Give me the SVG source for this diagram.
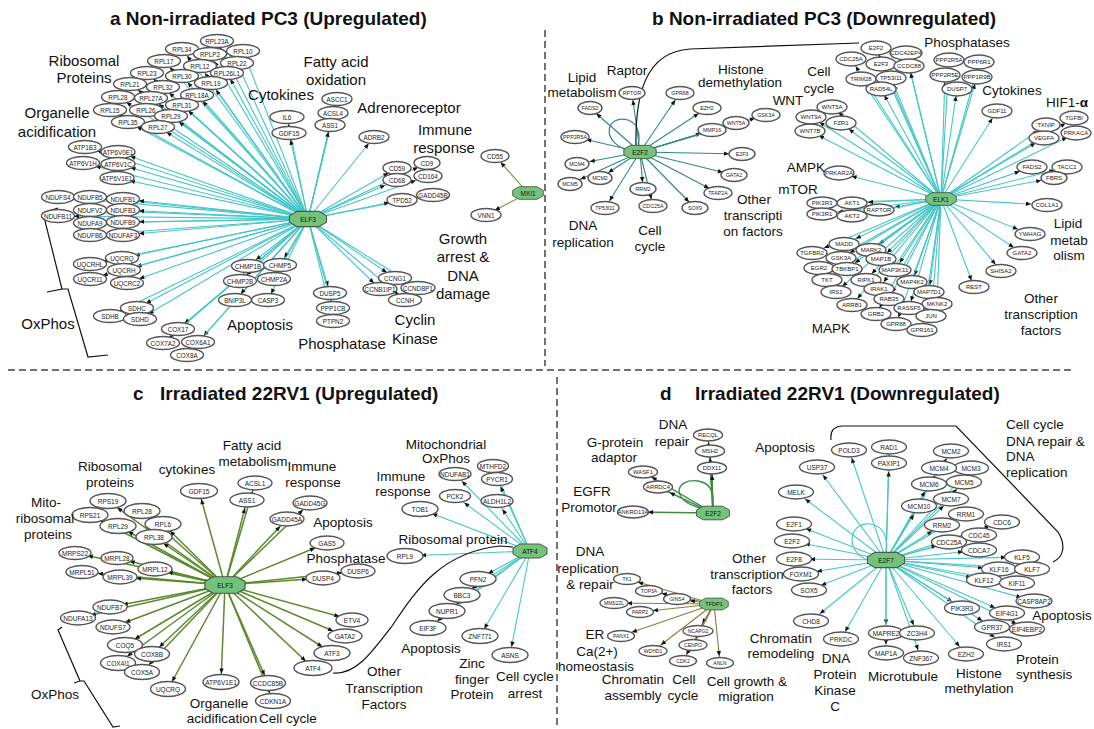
<svg xmlns="http://www.w3.org/2000/svg" width="1094" height="729" viewBox="0 0 1094 729">
<style>
text{font-family:"Liberation Sans",Arial,sans-serif;fill:#111}
.title{font-weight:bold;font-size:19px}
.la{font-size:15px;text-anchor:middle}
.lb{font-size:13.5px;text-anchor:middle}
.ls{font-size:13.5px}
.n ellipse{fill:#fff;stroke:#555;stroke-width:1.4}
.n text{text-anchor:middle;dominant-baseline:central;fill:#222}
.fa text{font-size:6.3px}.fb text{font-size:5.3px}.fk text{font-size:6px}.fc text{font-size:6.5px}.fd text{font-size:5.8px}.ft text{font-size:5px}
.hub use{fill:#74c27c;stroke:#4a5a4a;stroke-width:1}
.hub text{font-size:6.5px;text-anchor:middle;dominant-baseline:central}
#edges line{stroke-width:1.1}
.cy{stroke:#45c6c8}.tb{stroke:#2e8a86}.gc{stroke:#5b8a2f;stroke-width:1.5!important}.ol{stroke:#6d9a35}.gd{stroke:#3d8c45;stroke-width:1.4!important}.br{stroke:#8d7b3e}
.m7{marker-end:url(#o7)}.m8{marker-end:url(#o8)}.m10{marker-end:url(#o10)}.m12{marker-end:url(#o12)}.m13{marker-end:url(#o13)}.m16{marker-end:url(#o16)}
.ah{fill:#111}
.curve{fill:none;stroke:#111;stroke-width:1.2}
.dash{fill:none;stroke:#444;stroke-width:1.5;stroke-dasharray:7 4}
</style>
<defs>
<marker id="o7" markerUnits="userSpaceOnUse" orient="auto" refX="7" refY="0" markerWidth="6" markerHeight="6" overflow="visible"><path class="ah" d="M0,0L-5,-2.2L-5,2.2Z"/></marker>
<marker id="o8" markerUnits="userSpaceOnUse" orient="auto" refX="8.5" refY="0" markerWidth="6" markerHeight="6" overflow="visible"><path class="ah" d="M0,0L-5,-2.2L-5,2.2Z"/></marker>
<marker id="o10" markerUnits="userSpaceOnUse" orient="auto" refX="10" refY="0" markerWidth="6" markerHeight="6" overflow="visible"><path class="ah" d="M0,0L-5,-2.2L-5,2.2Z"/></marker>
<marker id="o12" markerUnits="userSpaceOnUse" orient="auto" refX="11.5" refY="0" markerWidth="6" markerHeight="6" overflow="visible"><path class="ah" d="M0,0L-5,-2.2L-5,2.2Z"/></marker>
<marker id="o13" markerUnits="userSpaceOnUse" orient="auto" refX="13" refY="0" markerWidth="6" markerHeight="6" overflow="visible"><path class="ah" d="M0,0L-5,-2.2L-5,2.2Z"/></marker>
<marker id="o16" markerUnits="userSpaceOnUse" orient="auto" refX="16" refY="0" markerWidth="6" markerHeight="6" overflow="visible"><path class="ah" d="M0,0L-5,-2.2L-5,2.2Z"/></marker>
<polygon id="oct" points="-10,-7 10,-7 17,-3 17,3 10,7 -10,7 -17,3 -17,-3"/>
</defs>

<!-- titles -->
<text class="title" x="110" y="25">a Non-irradiated PC3 (Upregulated)</text>
<text class="title" x="652" y="25">b Non-irradiated PC3 (Downregulated)</text>
<text class="title" x="133" y="400">c</text>
<text class="title" x="160" y="400">Irradiated 22RV1 (Upregulated)</text>
<text class="title" x="660" y="400">d</text>
<text class="title" x="695" y="400">Irradiated 22RV1 (Downregulated)</text>

<!-- dividers -->
<g id="dividers">
<path class="dash" d="M545,30 L545,366"/>
<path class="dash" d="M8,370 L1071,370"/>
<path class="dash" d="M557,377 L557,729"/>
</g>

<g id="edges">
<!-- panel a ELF3 -->
<line x1="308" y1="219" x2="217" y2="41" class="cy m7"/>
<line x1="308" y1="219" x2="182" y2="49" class="cy m8"/>
<line x1="308" y1="219" x2="210" y2="54" class="cy m8"/>
<line x1="308" y1="219" x2="243" y2="51" class="cy m7"/>
<line x1="308" y1="219" x2="164" y2="61" class="cy m8"/>
<line x1="308" y1="219" x2="200" y2="66" class="cy m8"/>
<line x1="308" y1="219" x2="237" y2="63" class="cy m7"/>
<line x1="308" y1="219" x2="227" y2="73" class="cy m7"/>
<line x1="308" y1="219" x2="147" y2="73" class="cy m8"/>
<line x1="308" y1="219" x2="182" y2="76" class="cy m8"/>
<line x1="308" y1="219" x2="211" y2="83" class="cy m8"/>
<line x1="308" y1="219" x2="130" y2="84" class="cy m10"/>
<line x1="308" y1="219" x2="163" y2="87" class="cy m8"/>
<line x1="308" y1="219" x2="197" y2="95" class="cy m8"/>
<line x1="308" y1="219" x2="118" y2="97" class="cy m10"/>
<line x1="308" y1="219" x2="151" y2="98" class="cy m10"/>
<line x1="308" y1="219" x2="182" y2="105" class="cy m8"/>
<line x1="308" y1="219" x2="110" y2="110" class="cy m10"/>
<line x1="308" y1="219" x2="146" y2="110" class="cy m10"/>
<line x1="308" y1="219" x2="171" y2="116" class="cy m10"/>
<line x1="308" y1="219" x2="128" y2="122" class="cy m10"/>
<line x1="308" y1="219" x2="158" y2="127" class="cy m10"/>
<line x1="308" y1="219" x2="287" y2="117" class="cy m7"/>
<line x1="308" y1="219" x2="289" y2="133" class="cy m7"/>
<line x1="308" y1="219" x2="337" y2="99" class="cy m7"/>
<line x1="308" y1="219" x2="333" y2="113" class="cy m7"/>
<line x1="308" y1="219" x2="330" y2="125" class="cy m7"/>
<line x1="308" y1="219" x2="374" y2="137" class="cy m8"/>
<line x1="308" y1="219" x2="397" y2="168" class="cy m10"/>
<line x1="308" y1="219" x2="427" y2="163" class="cy m10"/>
<line x1="308" y1="219" x2="428" y2="176" class="cy m13"/>
<line x1="308" y1="219" x2="397" y2="180" class="cy m13"/>
<line x1="308" y1="219" x2="433" y2="195" class="cy m16"/>
<line x1="308" y1="219" x2="402" y2="200" class="cy m13"/>
<line x1="308" y1="219" x2="85" y2="147" class="cy m13"/>
<line x1="308" y1="219" x2="118" y2="152" class="cy m13"/>
<line x1="308" y1="219" x2="83" y2="163" class="cy m13"/>
<line x1="308" y1="219" x2="118" y2="164" class="cy m13"/>
<line x1="308" y1="219" x2="117" y2="178" class="cy m13"/>
<line x1="308" y1="219" x2="58" y2="197" class="cy m16"/>
<line x1="308" y1="219" x2="90" y2="197" class="cy m16"/>
<line x1="308" y1="219" x2="123" y2="199" class="cy m16"/>
<line x1="308" y1="219" x2="58" y2="216" class="cy m16"/>
<line x1="308" y1="219" x2="90" y2="210" class="cy m16"/>
<line x1="308" y1="219" x2="123" y2="210" class="cy m16"/>
<line x1="308" y1="219" x2="90" y2="223" class="cy m16"/>
<line x1="308" y1="219" x2="123" y2="222" class="cy m16"/>
<line x1="308" y1="219" x2="90" y2="235" class="cy m16"/>
<line x1="308" y1="219" x2="123" y2="235" class="cy m16"/>
<line x1="308" y1="219" x2="122" y2="258" class="cy m13"/>
<line x1="308" y1="219" x2="90" y2="264" class="cy m13"/>
<line x1="308" y1="219" x2="124" y2="270" class="cy m13"/>
<line x1="308" y1="219" x2="90" y2="279" class="cy m13"/>
<line x1="308" y1="219" x2="127" y2="283" class="cy m13"/>
<line x1="308" y1="219" x2="137" y2="308" class="cy m10"/>
<line x1="308" y1="219" x2="110" y2="316" class="cy m10"/>
<line x1="308" y1="219" x2="140" y2="319" class="cy m10"/>
<line x1="308" y1="219" x2="178" y2="329" class="cy m8"/>
<line x1="308" y1="219" x2="163" y2="343" class="cy m8"/>
<line x1="308" y1="219" x2="198" y2="342" class="cy m8"/>
<line x1="308" y1="219" x2="187" y2="355" class="cy m8"/>
<line x1="308" y1="219" x2="248" y2="266" class="cy m10"/>
<line x1="308" y1="219" x2="280" y2="265" class="cy m8"/>
<line x1="308" y1="219" x2="240" y2="281" class="cy m8"/>
<line x1="308" y1="219" x2="274" y2="279" class="cy m7"/>
<line x1="308" y1="219" x2="235" y2="300" class="cy m8"/>
<line x1="308" y1="219" x2="268" y2="300" class="cy m7"/>
<line x1="308" y1="219" x2="330" y2="293" class="cy m7"/>
<line x1="308" y1="219" x2="333" y2="308" class="cy m7"/>
<line x1="308" y1="219" x2="333" y2="321" class="cy m7"/>
<line x1="308" y1="219" x2="395" y2="278" class="cy m10"/>
<line x1="308" y1="219" x2="380" y2="289" class="cy m8"/>
<line x1="308" y1="219" x2="418" y2="288" class="cy m10"/>
<line x1="308" y1="219" x2="405" y2="300" class="cy m8"/>
<!-- MXI1 -->
<line x1="528" y1="193" x2="495" y2="156" class="ol m8"/>
<line x1="528" y1="193" x2="486" y2="215" class="ol m10"/>
<!-- panel b E2F2 -->
<line x1="640" y1="152" x2="632" y2="93" class="tb m7"/>
<line x1="640" y1="152" x2="680" y2="93" class="tb m8"/>
<line x1="640" y1="152" x2="590" y2="108" class="tb m8"/>
<line x1="640" y1="152" x2="707" y2="108" class="tb m10"/>
<line x1="640" y1="152" x2="575" y2="137" class="tb m12"/>
<line x1="640" y1="152" x2="712" y2="130" class="tb m12"/>
<line x1="640" y1="152" x2="736" y2="123" class="tb m12"/>
<line x1="640" y1="152" x2="766" y2="115" class="tb m12"/>
<line x1="640" y1="152" x2="742" y2="154" class="tb m13"/>
<line x1="640" y1="152" x2="577" y2="164" class="tb m13"/>
<line x1="640" y1="152" x2="600" y2="178" class="tb m10"/>
<line x1="640" y1="152" x2="570" y2="184" class="tb m12"/>
<line x1="640" y1="152" x2="643" y2="189" class="tb m7"/>
<line x1="640" y1="152" x2="605" y2="208" class="tb m8"/>
<line x1="640" y1="152" x2="653" y2="206" class="tb m7"/>
<line x1="640" y1="152" x2="695" y2="208" class="tb m8"/>
<line x1="640" y1="152" x2="718" y2="193" class="tb m10"/>
<line x1="640" y1="152" x2="734" y2="175" class="tb m12"/>
<!-- panel b ELK1 -->
<line x1="941" y1="199" x2="876" y2="48" class="cy m7"/>
<line x1="941" y1="199" x2="906" y2="53" class="cy m7"/>
<line x1="941" y1="199" x2="851" y2="59" class="cy m8"/>
<line x1="941" y1="199" x2="881" y2="64" class="cy m7"/>
<line x1="941" y1="199" x2="909" y2="66" class="cy m7"/>
<line x1="941" y1="199" x2="861" y2="79" class="cy m8"/>
<line x1="941" y1="199" x2="891" y2="78" class="cy m7"/>
<line x1="941" y1="199" x2="881" y2="89" class="cy m7"/>
<line x1="941" y1="199" x2="949" y2="60" class="cy m7"/>
<line x1="941" y1="199" x2="979" y2="62" class="cy m7"/>
<line x1="941" y1="199" x2="945" y2="75" class="cy m7"/>
<line x1="941" y1="199" x2="977" y2="77" class="cy m7"/>
<line x1="941" y1="199" x2="957" y2="89" class="cy m7"/>
<line x1="941" y1="199" x2="997" y2="111" class="cy m8"/>
<line x1="941" y1="199" x2="1074" y2="118" class="cy m10"/>
<line x1="941" y1="199" x2="1046" y2="125" class="cy m10"/>
<line x1="941" y1="199" x2="1076" y2="133" class="cy m10"/>
<line x1="941" y1="199" x2="1044" y2="138" class="cy m10"/>
<line x1="941" y1="199" x2="832" y2="107" class="cy m8"/>
<line x1="941" y1="199" x2="811" y2="117" class="cy m10"/>
<line x1="941" y1="199" x2="841" y2="123" class="cy m10"/>
<line x1="941" y1="199" x2="810" y2="131" class="cy m10"/>
<line x1="941" y1="199" x2="839" y2="173" class="cy m13"/>
<line x1="941" y1="199" x2="1032" y2="167" class="cy m13"/>
<line x1="941" y1="199" x2="1067" y2="167" class="cy m13"/>
<line x1="941" y1="199" x2="1054" y2="178" class="cy m13"/>
<line x1="941" y1="199" x2="1047" y2="205" class="cy m16"/>
<line x1="941" y1="199" x2="1030" y2="234" class="cy m13"/>
<line x1="941" y1="199" x2="1022" y2="253" class="cy m10"/>
<line x1="941" y1="199" x2="1001" y2="271" class="cy m8"/>
<line x1="941" y1="199" x2="974" y2="287" class="cy m7"/>
<line x1="941" y1="199" x2="822" y2="203" class="cy m16"/>
<line x1="941" y1="199" x2="852" y2="203" class="cy m16"/>
<line x1="941" y1="199" x2="879" y2="210" class="cy m16"/>
<line x1="941" y1="199" x2="822" y2="214" class="cy m16"/>
<line x1="941" y1="199" x2="852" y2="216" class="cy m13"/>
<line x1="941" y1="199" x2="844" y2="244" class="cy m13"/>
<line x1="941" y1="199" x2="812" y2="253" class="cy m13"/>
<line x1="941" y1="199" x2="871" y2="250" class="cy m10"/>
<line x1="941" y1="199" x2="841" y2="258" class="cy m10"/>
<line x1="941" y1="199" x2="881" y2="259" class="cy m8"/>
<line x1="941" y1="199" x2="819" y2="268" class="cy m10"/>
<line x1="941" y1="199" x2="847" y2="269" class="cy m10"/>
<line x1="941" y1="199" x2="895" y2="270" class="cy m8"/>
<line x1="941" y1="199" x2="827" y2="280" class="cy m10"/>
<line x1="941" y1="199" x2="866" y2="280" class="cy m8"/>
<line x1="941" y1="199" x2="912" y2="282" class="cy m7"/>
<line x1="941" y1="199" x2="836" y2="292" class="cy m8"/>
<line x1="941" y1="199" x2="879" y2="289" class="cy m8"/>
<line x1="941" y1="199" x2="929" y2="292" class="cy m7"/>
<line x1="941" y1="199" x2="889" y2="299" class="cy m7"/>
<line x1="941" y1="199" x2="937" y2="304" class="cy m7"/>
<line x1="941" y1="199" x2="852" y2="305" class="cy m8"/>
<line x1="941" y1="199" x2="909" y2="308" class="cy m7"/>
<line x1="941" y1="199" x2="931" y2="316" class="cy m7"/>
<line x1="941" y1="199" x2="876" y2="314" class="cy m7"/>
<line x1="941" y1="199" x2="896" y2="324" class="cy m7"/>
<line x1="941" y1="199" x2="922" y2="330" class="cy m7"/>
<!-- panel c ELF3 -->
<line x1="225" y1="585" x2="108" y2="501" class="gc m12"/>
<line x1="225" y1="585" x2="90" y2="515" class="gc m12"/>
<line x1="225" y1="585" x2="142" y2="511" class="gc m10"/>
<line x1="225" y1="585" x2="118" y2="526" class="gc m12"/>
<line x1="225" y1="585" x2="163" y2="524" class="gc m10"/>
<line x1="225" y1="585" x2="154" y2="537" class="gc m12"/>
<line x1="225" y1="585" x2="199" y2="491" class="gc m8"/>
<line x1="225" y1="585" x2="255" y2="483" class="gc m8"/>
<line x1="225" y1="585" x2="247" y2="500" class="gc m8"/>
<line x1="225" y1="585" x2="310" y2="503" class="gc m10"/>
<line x1="225" y1="585" x2="287" y2="519" class="gc m10"/>
<line x1="225" y1="585" x2="327" y2="543" class="gc m13"/>
<line x1="225" y1="585" x2="358" y2="571" class="gc m16"/>
<line x1="225" y1="585" x2="323" y2="578" class="gc m16"/>
<line x1="225" y1="585" x2="75" y2="553" class="gc m13"/>
<line x1="225" y1="585" x2="117" y2="558" class="gc m13"/>
<line x1="225" y1="585" x2="155" y2="569" class="gc m13"/>
<line x1="225" y1="585" x2="82" y2="572" class="gc m16"/>
<line x1="225" y1="585" x2="120" y2="577" class="gc m16"/>
<line x1="225" y1="585" x2="110" y2="607" class="gc m13"/>
<line x1="225" y1="585" x2="78" y2="618" class="gc m13"/>
<line x1="225" y1="585" x2="113" y2="627" class="gc m13"/>
<line x1="225" y1="585" x2="125" y2="645" class="gc m12"/>
<line x1="225" y1="585" x2="152" y2="654" class="gc m10"/>
<line x1="225" y1="585" x2="118" y2="663" class="gc m12"/>
<line x1="225" y1="585" x2="142" y2="672" class="gc m10"/>
<line x1="225" y1="585" x2="168" y2="689" class="gc m8"/>
<line x1="225" y1="585" x2="221" y2="682" class="gc m8"/>
<line x1="225" y1="585" x2="268" y2="683" class="gc m8"/>
<line x1="225" y1="585" x2="273" y2="701" class="gc m8"/>
<line x1="225" y1="585" x2="352" y2="620" class="gc m13"/>
<line x1="225" y1="585" x2="345" y2="636" class="gc m13"/>
<line x1="225" y1="585" x2="332" y2="653" class="gc m12"/>
<line x1="225" y1="585" x2="313" y2="668" class="gc m10"/>
<!-- ATF4 -->
<line x1="530" y1="551" x2="493" y2="466" class="cy m8"/>
<line x1="530" y1="551" x2="455" y2="474" class="cy m10"/>
<line x1="530" y1="551" x2="497" y2="479" class="cy m8"/>
<line x1="530" y1="551" x2="455" y2="496" class="cy m12"/>
<line x1="530" y1="551" x2="497" y2="501" class="cy m10"/>
<line x1="530" y1="551" x2="420" y2="509" class="cy m13"/>
<line x1="530" y1="551" x2="405" y2="556" class="cy m16"/>
<line x1="530" y1="551" x2="478" y2="579" class="cy m12"/>
<line x1="530" y1="551" x2="462" y2="595" class="cy m12"/>
<line x1="530" y1="551" x2="447" y2="611" class="cy m12"/>
<line x1="530" y1="551" x2="428" y2="628" class="cy m12"/>
<line x1="530" y1="551" x2="480" y2="636" class="cy m8"/>
<line x1="530" y1="551" x2="510" y2="655" class="cy m8"/>
<!-- panel d E2F2 -->
<line x1="713" y1="513" x2="708" y2="435" class="gd m7"/>
<line x1="713" y1="513" x2="710" y2="451" class="gd m7"/>
<line x1="713" y1="513" x2="712" y2="468" class="gd m7"/>
<line x1="713" y1="513" x2="643" y2="472" class="gd m10"/>
<line x1="713" y1="513" x2="658" y2="487" class="gd m13"/>
<line x1="713" y1="513" x2="632" y2="512" class="gd m16"/>
<!-- TFDP1 -->
<line x1="714" y1="604" x2="627" y2="579" class="br m12"/>
<line x1="714" y1="604" x2="649" y2="591" class="br m13"/>
<line x1="714" y1="604" x2="677" y2="599" class="br m13"/>
<line x1="714" y1="604" x2="614" y2="603" class="br m13"/>
<line x1="714" y1="604" x2="640" y2="612" class="br m13"/>
<line x1="714" y1="604" x2="621" y2="636" class="br m12"/>
<line x1="714" y1="604" x2="698" y2="631" class="br m8"/>
<line x1="714" y1="604" x2="693" y2="645" class="br m7"/>
<line x1="714" y1="604" x2="653" y2="651" class="br m10"/>
<line x1="714" y1="604" x2="683" y2="661" class="br m7"/>
<line x1="714" y1="604" x2="720" y2="663" class="br m7"/>
<!-- E2F7 -->
<line x1="886" y1="560" x2="849" y2="450" class="cy m8"/>
<line x1="886" y1="560" x2="889" y2="447" class="cy m8"/>
<line x1="886" y1="560" x2="889" y2="463" class="cy m8"/>
<line x1="886" y1="560" x2="817" y2="467" class="cy m10"/>
<line x1="886" y1="560" x2="796" y2="492" class="cy m12"/>
<line x1="886" y1="560" x2="951" y2="451" class="cy m8"/>
<line x1="886" y1="560" x2="939" y2="468" class="cy m8"/>
<line x1="886" y1="560" x2="971" y2="468" class="cy m10"/>
<line x1="886" y1="560" x2="929" y2="484" class="cy m8"/>
<line x1="886" y1="560" x2="964" y2="482" class="cy m10"/>
<line x1="886" y1="560" x2="951" y2="499" class="cy m10"/>
<line x1="886" y1="560" x2="919" y2="506" class="cy m10"/>
<line x1="886" y1="560" x2="966" y2="514" class="cy m12"/>
<line x1="886" y1="560" x2="942" y2="525" class="cy m12"/>
<line x1="886" y1="560" x2="1002" y2="522" class="cy m13"/>
<line x1="886" y1="560" x2="979" y2="535" class="cy m13"/>
<line x1="886" y1="560" x2="949" y2="542" class="cy m13"/>
<line x1="886" y1="560" x2="979" y2="550" class="cy m16"/>
<line x1="886" y1="560" x2="794" y2="524" class="cy m13"/>
<line x1="886" y1="560" x2="792" y2="541" class="cy m13"/>
<line x1="886" y1="560" x2="794" y2="559" class="cy m16"/>
<line x1="886" y1="560" x2="801" y2="574" class="cy m16"/>
<line x1="886" y1="560" x2="809" y2="590" class="cy m13"/>
<line x1="886" y1="560" x2="1022" y2="557" class="cy m16"/>
<line x1="886" y1="560" x2="999" y2="569" class="cy m16"/>
<line x1="886" y1="560" x2="1032" y2="569" class="cy m16"/>
<line x1="886" y1="560" x2="984" y2="580" class="cy m13"/>
<line x1="886" y1="560" x2="1017" y2="583" class="cy m16"/>
<line x1="886" y1="560" x2="1034" y2="601" class="cy m13"/>
<line x1="886" y1="560" x2="962" y2="608" class="cy m12"/>
<line x1="886" y1="560" x2="1007" y2="613" class="cy m13"/>
<line x1="886" y1="560" x2="992" y2="627" class="cy m12"/>
<line x1="886" y1="560" x2="1027" y2="629" class="cy m12"/>
<line x1="886" y1="560" x2="1004" y2="644" class="cy m12"/>
<line x1="886" y1="560" x2="811" y2="621" class="cy m12"/>
<line x1="886" y1="560" x2="841" y2="639" class="cy m8"/>
<line x1="886" y1="560" x2="886" y2="633" class="cy m8"/>
<line x1="886" y1="560" x2="917" y2="633" class="cy m8"/>
<line x1="886" y1="560" x2="886" y2="653" class="cy m8"/>
<line x1="886" y1="560" x2="921" y2="658" class="cy m8"/>
<line x1="886" y1="560" x2="966" y2="654" class="cy m10"/>
<!-- loops and curves -->
<path d="M628,150 C600,142 606,114 628,120 C640,124 640,138 638,145" fill="none" stroke="#2e8a86" stroke-width="1.2"/>
<path d="M700,508 C670,500 675,478 698,481 C712,483 714,495 713,506" fill="none" stroke="#3d8c45" stroke-width="1.3"/>
<path d="M868,560 C845,552 848,522 870,524 C885,526 888,540 886,553" fill="none" stroke="#45c6c8" stroke-width="1.1"/>
<path class="curve" d="M636,147 C635,95 645,52 690,49 L859,43"/>
<path class="curve" d="M333,673 C355,675 370,655 392,626 C415,592 440,552 500,546 L513,547"/>
<path class="curve" d="M831,440 C830,430 834,427 842,426 L956,426 L1058,532 C1066,545 1064,557 1053,562"/>
<path class="curve" d="M58,208 L43,213 L62,289 L47,292 M62,289 L68,289 L88,357 L108,355"/>
<path class="curve" d="M62,627 L58,630 L80,681 L74,683 M80,681 L84,681 L113,727 L120,726"/>
</g>

<!-- panel a nodes -->
<g class="fa">
<g id="a_RPL23A" class="n"><ellipse cx="217" cy="41" rx="16.5" ry="6.5"/><text x="217" y="41">RPL23A</text></g>
<g id="a_RPL34" class="n"><ellipse cx="182" cy="49" rx="16.5" ry="6.5"/><text x="182" y="49">RPL34</text></g>
<g id="a_RPL10" class="n"><ellipse cx="243" cy="51" rx="16.5" ry="6.5"/><text x="243" y="51">RPL10</text></g>
<g id="a_RPLP2" class="n"><ellipse cx="210" cy="54" rx="16.5" ry="6.5"/><text x="210" y="54">RPLP2</text></g>
<g id="a_RPL17" class="n"><ellipse cx="164" cy="61" rx="16.5" ry="6.5"/><text x="164" y="61">RPL17</text></g>
<g id="a_RPL22" class="n"><ellipse cx="237" cy="63" rx="16.5" ry="6.5"/><text x="237" y="63">RPL22</text></g>
<g id="a_RPL12" class="n"><ellipse cx="200" cy="66" rx="16.5" ry="6.5"/><text x="200" y="66">RPL12</text></g>
<g id="a_RPL26L1" class="n"><ellipse cx="227" cy="73" rx="16.5" ry="6.5"/><text x="227" y="73">RPL26L1</text></g>
<g id="a_RPL23" class="n"><ellipse cx="147" cy="73" rx="16.5" ry="6.5"/><text x="147" y="73">RPL23</text></g>
<g id="a_RPL30" class="n"><ellipse cx="182" cy="76" rx="16.5" ry="6.5"/><text x="182" y="76">RPL30</text></g>
<g id="a_RPL19" class="n"><ellipse cx="211" cy="83" rx="16.5" ry="6.5"/><text x="211" y="83">RPL19</text></g>
<g id="a_RPL21" class="n"><ellipse cx="130" cy="84" rx="16.5" ry="6.5"/><text x="130" y="84">RPL21</text></g>
<g id="a_RPL32" class="n"><ellipse cx="163" cy="87" rx="16.5" ry="6.5"/><text x="163" y="87">RPL32</text></g>
<g id="a_RPL18A" class="n"><ellipse cx="197" cy="95" rx="16.5" ry="6.5"/><text x="197" y="95">RPL18A</text></g>
<g id="a_RPL28" class="n"><ellipse cx="118" cy="97" rx="16.5" ry="6.5"/><text x="118" y="97">RPL28</text></g>
<g id="a_RPL27A" class="n"><ellipse cx="151" cy="98" rx="16.5" ry="6.5"/><text x="151" y="98">RPL27A</text></g>
<g id="a_RPL31" class="n"><ellipse cx="182" cy="105" rx="16.5" ry="6.5"/><text x="182" y="105">RPL31</text></g>
<g id="a_RPL15" class="n"><ellipse cx="110" cy="110" rx="16.5" ry="6.5"/><text x="110" y="110">RPL15</text></g>
<g id="a_RPL26" class="n"><ellipse cx="146" cy="110" rx="16.5" ry="6.5"/><text x="146" y="110">RPL26</text></g>
<g id="a_RPL29" class="n"><ellipse cx="171" cy="116" rx="16.5" ry="6.5"/><text x="171" y="116">RPL29</text></g>
<g id="a_RPL35" class="n"><ellipse cx="128" cy="122" rx="16.5" ry="6.5"/><text x="128" y="122">RPL35</text></g>
<g id="a_RPL27" class="n"><ellipse cx="158" cy="127" rx="16.5" ry="6.5"/><text x="158" y="127">RPL27</text></g>
<g id="a_IL6" class="n"><ellipse cx="287" cy="117" rx="17" ry="6.5"/><text x="287" y="117">IL6</text></g>
<g id="a_GDF15" class="n"><ellipse cx="289" cy="133" rx="17" ry="6.5"/><text x="289" y="133">GDF15</text></g>
<g id="a_ASCC1" class="n"><ellipse cx="337" cy="99" rx="15" ry="6.5"/><text x="337" y="99">ASCC1</text></g>
<g id="a_ACSL4" class="n"><ellipse cx="333" cy="113" rx="15" ry="6.5"/><text x="333" y="113">ACSL4</text></g>
<g id="a_ASS1" class="n"><ellipse cx="330" cy="125" rx="15" ry="6.5"/><text x="330" y="125">ASS1</text></g>
<g id="a_ADRB2" class="n"><ellipse cx="374" cy="137" rx="15" ry="6.5"/><text x="374" y="137">ADRB2</text></g>
<g id="a_CD55" class="n"><ellipse cx="495" cy="156" rx="14" ry="6.5"/><text x="495" y="156">CD55</text></g>
<g id="a_CD9" class="n"><ellipse cx="427" cy="163" rx="13" ry="6.5"/><text x="427" y="163">CD9</text></g>
<g id="a_CD59" class="n"><ellipse cx="397" cy="168" rx="14" ry="6.5"/><text x="397" y="168">CD59</text></g>
<g id="a_CD164" class="n"><ellipse cx="428" cy="176" rx="14" ry="6.5"/><text x="428" y="176">CD164</text></g>
<g id="a_CD68" class="n"><ellipse cx="397" cy="180" rx="14" ry="6.5"/><text x="397" y="180">CD68</text></g>
<g id="a_GADD45B" class="n"><ellipse cx="433" cy="195" rx="16.5" ry="6.5"/><text x="433" y="195">GADD45B</text></g>
<g id="a_TPD52" class="n"><ellipse cx="402" cy="200" rx="15" ry="6.5"/><text x="402" y="200">TPD52</text></g>
<g id="a_VNN1" class="n"><ellipse cx="486" cy="215" rx="15" ry="6.5"/><text x="486" y="215">VNN1</text></g>
<g id="a_ATP1B3" class="n"><ellipse cx="85" cy="147" rx="16.5" ry="6.5"/><text x="85" y="147">ATP1B3</text></g>
<g id="a_ATP6V0E1" class="n"><ellipse cx="118" cy="152" rx="17" ry="6.5"/><text x="118" y="152">ATP6V0E1</text></g>
<g id="a_ATP6V1H" class="n"><ellipse cx="83" cy="163" rx="16.5" ry="6.5"/><text x="83" y="163">ATP6V1H</text></g>
<g id="a_ATP6V1C" class="n"><ellipse cx="118" cy="164" rx="17" ry="6.5"/><text x="118" y="164">ATP6V1C</text></g>
<g id="a_ATP6V1E1" class="n"><ellipse cx="117" cy="178" rx="17" ry="6.5"/><text x="117" y="178">ATP6V1E1</text></g>
<g id="a_NDUFS4" class="n"><ellipse cx="58" cy="197" rx="16.5" ry="6.5"/><text x="58" y="197">NDUFS4</text></g>
<g id="a_NDUFB5" class="n"><ellipse cx="90" cy="197" rx="16.5" ry="6.5"/><text x="90" y="197">NDUFB5</text></g>
<g id="a_NDUFB1" class="n"><ellipse cx="123" cy="199" rx="16.5" ry="6.5"/><text x="123" y="199">NDUFB1</text></g>
<g id="a_NDUFV2" class="n"><ellipse cx="90" cy="210" rx="16.5" ry="6.5"/><text x="90" y="210">NDUFV2</text></g>
<g id="a_NDUFB3" class="n"><ellipse cx="123" cy="210" rx="16.5" ry="6.5"/><text x="123" y="210">NDUFB3</text></g>
<g id="a_NDUFB11" class="n"><ellipse cx="58" cy="216" rx="16.5" ry="6.5"/><text x="58" y="216">NDUFB11</text></g>
<g id="a_NDUFA9" class="n"><ellipse cx="90" cy="223" rx="16.5" ry="6.5"/><text x="90" y="223">NDUFA9</text></g>
<g id="a_NDUFB9" class="n"><ellipse cx="123" cy="222" rx="16.5" ry="6.5"/><text x="123" y="222">NDUFB9</text></g>
<g id="a_NDUFB6" class="n"><ellipse cx="90" cy="235" rx="16.5" ry="6.5"/><text x="90" y="235">NDUFB6</text></g>
<g id="a_NDUFAF3" class="n"><ellipse cx="123" cy="235" rx="16.5" ry="6.5"/><text x="123" y="235">NDUFAF3</text></g>
<g id="a_UQCRQ" class="n"><ellipse cx="122" cy="258" rx="16.5" ry="6.5"/><text x="122" y="258">UQCRQ</text></g>
<g id="a_UQCRHL" class="n"><ellipse cx="90" cy="264" rx="16.5" ry="6.5"/><text x="90" y="264">UQCRHL</text></g>
<g id="a_UQCRH" class="n"><ellipse cx="124" cy="270" rx="16.5" ry="6.5"/><text x="124" y="270">UQCRH</text></g>
<g id="a_UQCR11" class="n"><ellipse cx="90" cy="279" rx="16.5" ry="6.5"/><text x="90" y="279">UQCR11</text></g>
<g id="a_UQCRC2" class="n"><ellipse cx="127" cy="283" rx="16.5" ry="6.5"/><text x="127" y="283">UQCRC2</text></g>
<g id="a_SDHC" class="n"><ellipse cx="137" cy="308" rx="16.5" ry="6.5"/><text x="137" y="308">SDHC</text></g>
<g id="a_SDHB" class="n"><ellipse cx="110" cy="316" rx="16.5" ry="6.5"/><text x="110" y="316">SDHB</text></g>
<g id="a_SDHD" class="n"><ellipse cx="140" cy="319" rx="16.5" ry="6.5"/><text x="140" y="319">SDHD</text></g>
<g id="a_COX17" class="n"><ellipse cx="178" cy="329" rx="16.5" ry="6.5"/><text x="178" y="329">COX17</text></g>
<g id="a_COX7A2" class="n"><ellipse cx="163" cy="343" rx="16.5" ry="6.5"/><text x="163" y="343">COX7A2</text></g>
<g id="a_COX6A1" class="n"><ellipse cx="198" cy="342" rx="16.5" ry="6.5"/><text x="198" y="342">COX6A1</text></g>
<g id="a_COX8A" class="n"><ellipse cx="187" cy="355" rx="16.5" ry="6.5"/><text x="187" y="355">COX8A</text></g>
<g id="a_CHMP1B" class="n"><ellipse cx="248" cy="266" rx="16.5" ry="6.5"/><text x="248" y="266">CHMP1B</text></g>
<g id="a_CHMP5" class="n"><ellipse cx="280" cy="265" rx="16.5" ry="6.5"/><text x="280" y="265">CHMP5</text></g>
<g id="a_CHMP2B" class="n"><ellipse cx="240" cy="281" rx="16.5" ry="6.5"/><text x="240" y="281">CHMP2B</text></g>
<g id="a_CHMP2A" class="n"><ellipse cx="274" cy="279" rx="16.5" ry="6.5"/><text x="274" y="279">CHMP2A</text></g>
<g id="a_BNIP3L" class="n"><ellipse cx="235" cy="300" rx="16.5" ry="6.5"/><text x="235" y="300">BNIP3L</text></g>
<g id="a_CASP3" class="n"><ellipse cx="268" cy="300" rx="16.5" ry="6.5"/><text x="268" y="300">CASP3</text></g>
<g id="a_DUSP5" class="n"><ellipse cx="330" cy="293" rx="16.5" ry="6.5"/><text x="330" y="293">DUSP5</text></g>
<g id="a_PPP1CB" class="n"><ellipse cx="333" cy="308" rx="16.5" ry="6.5"/><text x="333" y="308">PPP1CB</text></g>
<g id="a_PTPN2" class="n"><ellipse cx="333" cy="321" rx="16.5" ry="6.5"/><text x="333" y="321">PTPN2</text></g>
<g id="a_CCNG1" class="n"><ellipse cx="395" cy="278" rx="16.5" ry="6.5"/><text x="395" y="278">CCNG1</text></g>
<g id="a_CCNDBP1" class="n"><ellipse cx="418" cy="288" rx="17" ry="6.5"/><text x="418" y="288">CCNDBP1</text></g>
<g id="a_CCNB1IP1" class="n"><ellipse cx="380" cy="289" rx="17" ry="6.5"/><text x="380" y="289">CCNB1IP1</text></g>
<g id="a_CCNH" class="n"><ellipse cx="405" cy="300" rx="16.5" ry="6.5"/><text x="405" y="300">CCNH</text></g>
</g>

<!-- panel b E2F2 nodes -->
<g class="fb">
<g id="b_RPTOR" class="n"><ellipse cx="632" cy="93" rx="13" ry="6.5"/><text x="632" y="93">RPTOR</text></g>
<g id="b_GPR68" class="n"><ellipse cx="680" cy="93" rx="14" ry="6.5"/><text x="680" y="93">GPR68</text></g>
<g id="b_FADS2a" class="n"><ellipse cx="590" cy="108" rx="12" ry="6.5"/><text x="590" y="108">FADS2</text></g>
<g id="b_EZH2" class="n"><ellipse cx="707" cy="108" rx="14" ry="6.5"/><text x="707" y="108">EZH2</text></g>
<g id="b_PPP2R5Aa" class="n"><ellipse cx="575" cy="137" rx="14" ry="6.5"/><text x="575" y="137">PPP2R5A</text></g>
<g id="b_MMP16" class="n"><ellipse cx="712" cy="130" rx="14" ry="6.5"/><text x="712" y="130">MMP16</text></g>
<g id="b_WNT5Aa" class="n"><ellipse cx="736" cy="123" rx="13" ry="6.5"/><text x="736" y="123">WNT5A</text></g>
<g id="b_GSK3Aa" class="n"><ellipse cx="766" cy="115" rx="14" ry="6.5"/><text x="766" y="115">GSK3A</text></g>
<g id="b_E2F3a" class="n"><ellipse cx="742" cy="154" rx="13" ry="6.5"/><text x="742" y="154">E2F3</text></g>
<g id="b_MCM4" class="n"><ellipse cx="577" cy="164" rx="12" ry="6.5"/><text x="577" y="164">MCM4</text></g>
<g id="b_MCM2" class="n"><ellipse cx="600" cy="178" rx="12" ry="6.5"/><text x="600" y="178">MCM2</text></g>
<g id="b_MCM5" class="n"><ellipse cx="570" cy="184" rx="12" ry="6.5"/><text x="570" y="184">MCM5</text></g>
<g id="b_RRM2" class="n"><ellipse cx="643" cy="189" rx="13" ry="6.5"/><text x="643" y="189">RRM2</text></g>
<g id="b_TP53I11a" class="n"><ellipse cx="605" cy="208" rx="14" ry="6.5"/><text x="605" y="208">TP53I11</text></g>
<g id="b_CDC25Aa" class="n"><ellipse cx="653" cy="206" rx="14" ry="6.5"/><text x="653" y="206">CDC25A</text></g>
<g id="b_SOX9" class="n"><ellipse cx="695" cy="208" rx="13" ry="6.5"/><text x="695" y="208">SOX9</text></g>
<g id="b_TFAP2A" class="n"><ellipse cx="718" cy="193" rx="14" ry="6.5"/><text x="718" y="193">TFAP2A</text></g>
<g id="b_GATA2a" class="n"><ellipse cx="734" cy="175" rx="13" ry="6.5"/><text x="734" y="175">GATA2</text></g>
</g>

<!-- panel b ELK1 nodes -->
<g class="fk">
<g id="b_E2F2n" class="n"><ellipse cx="876" cy="48" rx="15" ry="7"/><text x="876" y="48">E2F2</text></g>
<g id="b_CDC42EP4" class="n"><ellipse cx="906" cy="53" rx="16" ry="7"/><text x="906" y="53">CDC42EP4</text></g>
<g id="b_CDC25Ab" class="n"><ellipse cx="851" cy="59" rx="15" ry="7"/><text x="851" y="59">CDC25A</text></g>
<g id="b_E2F3b" class="n"><ellipse cx="881" cy="64" rx="15" ry="7"/><text x="881" y="64">E2F3</text></g>
<g id="b_CCDC88" class="n"><ellipse cx="909" cy="66" rx="15" ry="7"/><text x="909" y="66">CCDC88</text></g>
<g id="b_TRIM28" class="n"><ellipse cx="861" cy="79" rx="15" ry="7"/><text x="861" y="79">TRIM28</text></g>
<g id="b_TP53I11b" class="n"><ellipse cx="891" cy="78" rx="15" ry="7"/><text x="891" y="78">TP53I11</text></g>
<g id="b_RAD54L" class="n"><ellipse cx="881" cy="89" rx="15" ry="7"/><text x="881" y="89">RAD54L</text></g>
<g id="b_PPP2R5Ab" class="n"><ellipse cx="949" cy="60" rx="15" ry="7"/><text x="949" y="60">PPP2R5A</text></g>
<g id="b_PPP6R1" class="n"><ellipse cx="979" cy="62" rx="15" ry="7"/><text x="979" y="62">PPP6R1</text></g>
<g id="b_PPP2R5E" class="n"><ellipse cx="945" cy="75" rx="15" ry="7"/><text x="945" y="75">PPP2R5E</text></g>
<g id="b_PPP1R9B" class="n"><ellipse cx="977" cy="77" rx="15" ry="7"/><text x="977" y="77">PPP1R9B</text></g>
<g id="b_DUSP7" class="n"><ellipse cx="957" cy="89" rx="15" ry="7"/><text x="957" y="89">DUSP7</text></g>
<g id="b_GDF11" class="n"><ellipse cx="997" cy="111" rx="15" ry="7"/><text x="997" y="111">GDF11</text></g>
<g id="b_TGFBI" class="n"><ellipse cx="1074" cy="118" rx="14" ry="7"/><text x="1074" y="118">TGFBI</text></g>
<g id="b_TXNIP" class="n"><ellipse cx="1046" cy="125" rx="14" ry="7"/><text x="1046" y="125">TXNIP</text></g>
<g id="b_PRKACA" class="n"><ellipse cx="1076" cy="133" rx="15" ry="7"/><text x="1076" y="133">PRKACA</text></g>
<g id="b_VEGFA" class="n"><ellipse cx="1044" cy="138" rx="15" ry="7"/><text x="1044" y="138">VEGFA</text></g>
<g id="b_WNT5Ab" class="n"><ellipse cx="832" cy="107" rx="15" ry="7"/><text x="832" y="107">WNT5A</text></g>
<g id="b_WNT9A" class="n"><ellipse cx="811" cy="117" rx="15" ry="7"/><text x="811" y="117">WNT9A</text></g>
<g id="b_FZR1" class="n"><ellipse cx="841" cy="123" rx="15" ry="7"/><text x="841" y="123">FZR1</text></g>
<g id="b_WNT7B" class="n"><ellipse cx="810" cy="131" rx="15" ry="7"/><text x="810" y="131">WNT7B</text></g>
<g id="b_PRKAR2A" class="n"><ellipse cx="839" cy="173" rx="15" ry="7"/><text x="839" y="173">PRKAR2A</text></g>
<g id="b_FADS2b" class="n"><ellipse cx="1032" cy="167" rx="15" ry="7"/><text x="1032" y="167">FADS2</text></g>
<g id="b_TACC1" class="n"><ellipse cx="1067" cy="167" rx="15" ry="7"/><text x="1067" y="167">TACC1</text></g>
<g id="b_FBRS" class="n"><ellipse cx="1054" cy="178" rx="13" ry="6.5"/><text x="1054" y="178">FBRS</text></g>
<g id="b_COL1A1" class="n"><ellipse cx="1047" cy="205" rx="15" ry="6.5"/><text x="1047" y="205">COL1A1</text></g>
<g id="b_YWHAG" class="n"><ellipse cx="1030" cy="234" rx="15" ry="6.5"/><text x="1030" y="234">YWHAG</text></g>
<g id="b_GATA2b" class="n"><ellipse cx="1022" cy="253" rx="15" ry="6.5"/><text x="1022" y="253">GATA2</text></g>
<g id="b_SHISA2" class="n"><ellipse cx="1001" cy="271" rx="15" ry="6.5"/><text x="1001" y="271">SHISA2</text></g>
<g id="b_REST" class="n"><ellipse cx="974" cy="287" rx="15" ry="6.5"/><text x="974" y="287">REST</text></g>
<g id="b_PIK3R3" class="n"><ellipse cx="822" cy="203" rx="15" ry="6"/><text x="822" y="203">PIK3R3</text></g>
<g id="b_AKT1" class="n"><ellipse cx="852" cy="203" rx="15" ry="6"/><text x="852" y="203">AKT1</text></g>
<g id="b_PIK3R1" class="n"><ellipse cx="822" cy="214" rx="15" ry="6"/><text x="822" y="214">PIK3R1</text></g>
<g id="b_AKT2" class="n"><ellipse cx="852" cy="216" rx="15" ry="6"/><text x="852" y="216">AKT2</text></g>
<g id="b_RAPTOR" class="n"><ellipse cx="879" cy="210" rx="15" ry="6"/><text x="879" y="210">RAPTOR</text></g>
<g id="b_MADD" class="n"><ellipse cx="844" cy="244" rx="15" ry="6.5"/><text x="844" y="244">MADD</text></g>
<g id="b_TGFBR2" class="n"><ellipse cx="812" cy="253" rx="15" ry="6.5"/><text x="812" y="253">TGFBR2</text></g>
<g id="b_MARK2" class="n"><ellipse cx="871" cy="250" rx="15" ry="6.5"/><text x="871" y="250">MARK2</text></g>
<g id="b_GSK3Ab" class="n"><ellipse cx="841" cy="258" rx="15" ry="6.5"/><text x="841" y="258">GSK3A</text></g>
<g id="b_MAP1B" class="n"><ellipse cx="881" cy="259" rx="15" ry="6.5"/><text x="881" y="259">MAP1B</text></g>
<g id="b_EGR2" class="n"><ellipse cx="819" cy="268" rx="15" ry="6.5"/><text x="819" y="268">EGR2</text></g>
<g id="b_TBKBP1" class="n"><ellipse cx="847" cy="269" rx="15" ry="6.5"/><text x="847" y="269">TBKBP1</text></g>
<g id="b_MAP3K11" class="n"><ellipse cx="895" cy="270" rx="16" ry="6.5"/><text x="895" y="270">MAP3K11</text></g>
<g id="b_TKT" class="n"><ellipse cx="827" cy="280" rx="15" ry="6.5"/><text x="827" y="280">TKT</text></g>
<g id="b_RIPK1" class="n"><ellipse cx="866" cy="280" rx="15" ry="6.5"/><text x="866" y="280">RIPK1</text></g>
<g id="b_MAP4K2" class="n"><ellipse cx="912" cy="282" rx="15" ry="6.5"/><text x="912" y="282">MAP4K2</text></g>
<g id="b_IRAK1" class="n"><ellipse cx="879" cy="289" rx="15" ry="6.5"/><text x="879" y="289">IRAK1</text></g>
<g id="b_IRS1" class="n"><ellipse cx="836" cy="292" rx="15" ry="6.5"/><text x="836" y="292">IRS1</text></g>
<g id="b_MAP7D1" class="n"><ellipse cx="929" cy="292" rx="15" ry="6.5"/><text x="929" y="292">MAP7D1</text></g>
<g id="b_RAB35" class="n"><ellipse cx="889" cy="299" rx="15" ry="6.5"/><text x="889" y="299">RAB35</text></g>
<g id="b_MKNK2" class="n"><ellipse cx="937" cy="304" rx="15" ry="6.5"/><text x="937" y="304">MKNK2</text></g>
<g id="b_ARRB1" class="n"><ellipse cx="852" cy="305" rx="15" ry="6.5"/><text x="852" y="305">ARRB1</text></g>
<g id="b_RASSF5" class="n"><ellipse cx="909" cy="308" rx="15" ry="6.5"/><text x="909" y="308">RASSF5</text></g>
<g id="b_GRB2" class="n"><ellipse cx="876" cy="314" rx="15" ry="6.5"/><text x="876" y="314">GRB2</text></g>
<g id="b_JUN" class="n"><ellipse cx="931" cy="316" rx="15" ry="6.5"/><text x="931" y="316">JUN</text></g>
<g id="b_GPR88" class="n"><ellipse cx="896" cy="324" rx="15" ry="6.5"/><text x="896" y="324">GPR88</text></g>
<g id="b_GPR161" class="n"><ellipse cx="922" cy="330" rx="15" ry="6.5"/><text x="922" y="330">GPR161</text></g>
</g>

<!-- panel c nodes -->
<g class="fc">
<g id="c_RPS19" class="n"><ellipse cx="108" cy="501" rx="18" ry="7.5"/><text x="108" y="501">RPS19</text></g>
<g id="c_RPL28" class="n"><ellipse cx="142" cy="511" rx="18" ry="7.5"/><text x="142" y="511">RPL28</text></g>
<g id="c_RPS21" class="n"><ellipse cx="90" cy="515" rx="18" ry="7.5"/><text x="90" y="515">RPS21</text></g>
<g id="c_RPL6" class="n"><ellipse cx="163" cy="524" rx="18" ry="7.5"/><text x="163" y="524">RPL6</text></g>
<g id="c_RPL29" class="n"><ellipse cx="118" cy="526" rx="18" ry="7.5"/><text x="118" y="526">RPL29</text></g>
<g id="c_RPL38" class="n"><ellipse cx="154" cy="537" rx="18" ry="7.5"/><text x="154" y="537">RPL38</text></g>
<g id="c_GDF15" class="n"><ellipse cx="199" cy="491" rx="18.5" ry="7.5"/><text x="199" y="491">GDF15</text></g>
<g id="c_ACSL1" class="n"><ellipse cx="255" cy="483" rx="17" ry="7"/><text x="255" y="483">ACSL1</text></g>
<g id="c_ASS1" class="n"><ellipse cx="247" cy="500" rx="17" ry="7"/><text x="247" y="500">ASS1</text></g>
<g id="c_GADD45G" class="n"><ellipse cx="310" cy="503" rx="17" ry="7"/><text x="310" y="503">GADD45G</text></g>
<g id="c_GADD45A" class="n"><ellipse cx="287" cy="519" rx="17" ry="7"/><text x="287" y="519">GADD45A</text></g>
<g id="c_GAS5" class="n"><ellipse cx="327" cy="543" rx="17" ry="7"/><text x="327" y="543">GAS5</text></g>
<g id="c_DUSP6" class="n"><ellipse cx="358" cy="571" rx="17" ry="7"/><text x="358" y="571">DUSP6</text></g>
<g id="c_DUSP4" class="n"><ellipse cx="323" cy="578" rx="17" ry="7"/><text x="323" y="578">DUSP4</text></g>
<g id="c_MRPS22" class="n"><ellipse cx="75" cy="553" rx="16" ry="6.5"/><text x="75" y="553">MRPS22</text></g>
<g id="c_MRPL28" class="n"><ellipse cx="117" cy="558" rx="16" ry="6.5"/><text x="117" y="558">MRPL28</text></g>
<g id="c_MRPL51" class="n"><ellipse cx="82" cy="572" rx="16" ry="6.5"/><text x="82" y="572">MRPL51</text></g>
<g id="c_MRPL12" class="n"><ellipse cx="155" cy="569" rx="17" ry="7"/><text x="155" y="569">MRPL12</text></g>
<g id="c_MRPL39" class="n"><ellipse cx="120" cy="577" rx="17" ry="7"/><text x="120" y="577">MRPL39</text></g>
<g id="c_NDUFB7" class="n"><ellipse cx="110" cy="607" rx="17" ry="7"/><text x="110" y="607">NDUFB7</text></g>
<g id="c_NDUFA13" class="n"><ellipse cx="78" cy="618" rx="17.5" ry="7"/><text x="78" y="618">NDUFA13</text></g>
<g id="c_NDUFS7" class="n"><ellipse cx="113" cy="627" rx="17" ry="7"/><text x="113" y="627">NDUFS7</text></g>
<g id="c_COQ5" class="n"><ellipse cx="125" cy="645" rx="17.5" ry="7.5"/><text x="125" y="645">COQ5</text></g>
<g id="c_COX4I1" class="n"><ellipse cx="118" cy="663" rx="17.5" ry="7.5"/><text x="118" y="663">COX4I1</text></g>
<g id="c_COX8B" class="n"><ellipse cx="152" cy="654" rx="17.5" ry="7.5"/><text x="152" y="654">COX8B</text></g>
<g id="c_COX5A" class="n"><ellipse cx="142" cy="672" rx="17.5" ry="7.5"/><text x="142" y="672">COX5A</text></g>
<g id="c_UQCRQ" class="n"><ellipse cx="168" cy="689" rx="17.5" ry="7.5"/><text x="168" y="689">UQCRQ</text></g>
<g id="c_ATP6V1E1" class="n"><ellipse cx="221" cy="682" rx="18" ry="7.5"/><text x="221" y="682">ATP6V1E1</text></g>
<g id="c_CCDC85B" class="n"><ellipse cx="268" cy="683" rx="17.5" ry="7.5"/><text x="268" y="683">CCDC85B</text></g>
<g id="c_CDKN1A" class="n"><ellipse cx="273" cy="701" rx="17.5" ry="7.5"/><text x="273" y="701">CDKN1A</text></g>
<g id="c_ETV4" class="n"><ellipse cx="352" cy="620" rx="16" ry="7"/><text x="352" y="620">ETV4</text></g>
<g id="c_GATA2" class="n"><ellipse cx="345" cy="636" rx="17" ry="7"/><text x="345" y="636">GATA2</text></g>
<g id="c_ATF3" class="n"><ellipse cx="332" cy="653" rx="18" ry="7.5"/><text x="332" y="653">ATF3</text></g>
<g id="c_ATF4n" class="n"><ellipse cx="313" cy="668" rx="19" ry="7.5"/><text x="313" y="668">ATF4</text></g>
<g id="c_MTHFD2" class="n"><ellipse cx="493" cy="466" rx="15.5" ry="6.5"/><text x="493" y="466">MTHFD2</text></g>
<g id="c_NDUFAB1" class="n"><ellipse cx="455" cy="474" rx="16" ry="6.5"/><text x="455" y="474">NDUFAB1</text></g>
<g id="c_PYCR1" class="n"><ellipse cx="497" cy="479" rx="15.5" ry="6.5"/><text x="497" y="479">PYCR1</text></g>
<g id="c_PCK2" class="n"><ellipse cx="455" cy="496" rx="15.5" ry="6.5"/><text x="455" y="496">PCK2</text></g>
<g id="c_ALDH1L2" class="n"><ellipse cx="497" cy="501" rx="16" ry="6.5"/><text x="497" y="501">ALDH1L2</text></g>
<g id="c_TOB1" class="n"><ellipse cx="420" cy="509" rx="18" ry="7.5"/><text x="420" y="509">TOB1</text></g>
<g id="c_RPL9" class="n"><ellipse cx="405" cy="556" rx="18" ry="7.5"/><text x="405" y="556">RPL9</text></g>
<g id="c_PFN2" class="n"><ellipse cx="478" cy="579" rx="18" ry="7.5"/><text x="478" y="579">PFN2</text></g>
<g id="c_BBC3" class="n"><ellipse cx="462" cy="595" rx="18" ry="7.5"/><text x="462" y="595">BBC3</text></g>
<g id="c_NUPR1" class="n"><ellipse cx="447" cy="611" rx="18" ry="7.5"/><text x="447" y="611">NUPR1</text></g>
<g id="c_EIF3F" class="n"><ellipse cx="428" cy="628" rx="18" ry="7.5"/><text x="428" y="628">EIF3F</text></g>
<g id="c_ZNF771" class="n"><ellipse cx="480" cy="636" rx="18" ry="7.5"/><text x="480" y="636">ZNF771</text></g>
<g id="c_ASNS" class="n"><ellipse cx="510" cy="655" rx="18" ry="7.5"/><text x="510" y="655">ASNS</text></g>
</g>

<!-- panel d nodes -->
<g class="fd">
<g id="d_RECQL" class="n"><ellipse cx="708" cy="435" rx="14.5" ry="6"/><text x="708" y="435">RECQL</text></g>
<g id="d_MSH2" class="n"><ellipse cx="710" cy="451" rx="14.5" ry="6"/><text x="710" y="451">MSH2</text></g>
<g id="d_DDX11" class="n"><ellipse cx="712" cy="468" rx="14.5" ry="6"/><text x="712" y="468">DDX11</text></g>
<g id="d_WASF1" class="n"><ellipse cx="643" cy="472" rx="14.5" ry="6"/><text x="643" y="472">WASF1</text></g>
<g id="d_ARRDC4" class="n"><ellipse cx="658" cy="487" rx="14.5" ry="6"/><text x="658" y="487">ARRDC4</text></g>
<g id="d_ANKRD13A" class="n"><ellipse cx="633" cy="512" rx="15.5" ry="6"/><text x="633" y="512">ANKRD13A</text></g>
</g>
<g class="ft">
<g id="d_TK1" class="n"><ellipse cx="627" cy="579" rx="13.5" ry="5.5"/><text x="627" y="579">TK1</text></g>
<g id="d_TOP3A" class="n"><ellipse cx="649" cy="591" rx="13.5" ry="5.5"/><text x="649" y="591">TOP3A</text></g>
<g id="d_GINS4" class="n"><ellipse cx="677" cy="599" rx="13.5" ry="5.5"/><text x="677" y="599">GINS4</text></g>
<g id="d_MMS22L" class="n"><ellipse cx="614" cy="603" rx="14" ry="5.5"/><text x="614" y="603">MMS22L</text></g>
<g id="d_PARP2" class="n"><ellipse cx="640" cy="612" rx="13.5" ry="5.5"/><text x="640" y="612">PARP2</text></g>
<g id="d_PANX1" class="n"><ellipse cx="621" cy="636" rx="13.5" ry="5.5"/><text x="621" y="636">PANX1</text></g>
<g id="d_NCAPG2" class="n"><ellipse cx="698" cy="631" rx="15" ry="5.5"/><text x="698" y="631">NCAPG2</text></g>
<g id="d_CENPO" class="n"><ellipse cx="693" cy="645" rx="14" ry="5.5"/><text x="693" y="645">CENPO</text></g>
<g id="d_WDHD1" class="n"><ellipse cx="653" cy="651" rx="14" ry="5.5"/><text x="653" y="651">WDHD1</text></g>
<g id="d_CDK2" class="n"><ellipse cx="683" cy="661" rx="13.5" ry="5.5"/><text x="683" y="661">CDK2</text></g>
<g id="d_ANLN" class="n"><ellipse cx="720" cy="663" rx="13.5" ry="5.5"/><text x="720" y="663">ANLN</text></g>
</g>
<g class="fc">
<g id="d_POLD3" class="n"><ellipse cx="849" cy="450" rx="17.5" ry="7"/><text x="849" y="450">POLD3</text></g>
<g id="d_RAD1" class="n"><ellipse cx="889" cy="447" rx="17.5" ry="7"/><text x="889" y="447">RAD1</text></g>
<g id="d_PAXIP1" class="n"><ellipse cx="889" cy="463" rx="17.5" ry="7"/><text x="889" y="463">PAXIP1</text></g>
<g id="d_USP37" class="n"><ellipse cx="817" cy="467" rx="17.5" ry="7"/><text x="817" y="467">USP37</text></g>
<g id="d_MELK" class="n"><ellipse cx="796" cy="492" rx="17.5" ry="7"/><text x="796" y="492">MELK</text></g>
<g id="d_MCM2" class="n"><ellipse cx="951" cy="451" rx="17.5" ry="7"/><text x="951" y="451">MCM2</text></g>
<g id="d_MCM3" class="n"><ellipse cx="971" cy="468" rx="17.5" ry="7"/><text x="971" y="468">MCM3</text></g>
<g id="d_MCM4" class="n"><ellipse cx="939" cy="468" rx="17.5" ry="7"/><text x="939" y="468">MCM4</text></g>
<g id="d_MCM5" class="n"><ellipse cx="964" cy="482" rx="17.5" ry="7"/><text x="964" y="482">MCM5</text></g>
<g id="d_MCM6" class="n"><ellipse cx="929" cy="484" rx="17.5" ry="7"/><text x="929" y="484">MCM6</text></g>
<g id="d_MCM7" class="n"><ellipse cx="951" cy="499" rx="17.5" ry="7"/><text x="951" y="499">MCM7</text></g>
<g id="d_MCM10" class="n"><ellipse cx="919" cy="506" rx="17.5" ry="7"/><text x="919" y="506">MCM10</text></g>
<g id="d_RRM1" class="n"><ellipse cx="966" cy="514" rx="17.5" ry="7"/><text x="966" y="514">RRM1</text></g>
<g id="d_CDC6" class="n"><ellipse cx="1002" cy="522" rx="17.5" ry="7"/><text x="1002" y="522">CDC6</text></g>
<g id="d_RRM2" class="n"><ellipse cx="942" cy="525" rx="17.5" ry="7"/><text x="942" y="525">RRM2</text></g>
<g id="d_CDC45" class="n"><ellipse cx="979" cy="535" rx="17.5" ry="7"/><text x="979" y="535">CDC45</text></g>
<g id="d_CDC25A" class="n"><ellipse cx="949" cy="542" rx="17.5" ry="7"/><text x="949" y="542">CDC25A</text></g>
<g id="d_CDCA7" class="n"><ellipse cx="979" cy="550" rx="17.5" ry="7"/><text x="979" y="550">CDCA7</text></g>
<g id="d_E2F1" class="n"><ellipse cx="794" cy="524" rx="17.5" ry="7"/><text x="794" y="524">E2F1</text></g>
<g id="d_E2F2n" class="n"><ellipse cx="792" cy="541" rx="17.5" ry="7"/><text x="792" y="541">E2F2</text></g>
<g id="d_E2F8" class="n"><ellipse cx="794" cy="559" rx="17.5" ry="7"/><text x="794" y="559">E2F8</text></g>
<g id="d_FOXM1" class="n"><ellipse cx="801" cy="574" rx="17.5" ry="7"/><text x="801" y="574">FOXM1</text></g>
<g id="d_SOX5" class="n"><ellipse cx="809" cy="590" rx="17.5" ry="7"/><text x="809" y="590">SOX5</text></g>
<g id="d_KLF5" class="n"><ellipse cx="1022" cy="557" rx="17.5" ry="7"/><text x="1022" y="557">KLF5</text></g>
<g id="d_KLF16" class="n"><ellipse cx="999" cy="569" rx="17.5" ry="7"/><text x="999" y="569">KLF16</text></g>
<g id="d_KLF7" class="n"><ellipse cx="1032" cy="569" rx="17.5" ry="7"/><text x="1032" y="569">KLF7</text></g>
<g id="d_KLF12" class="n"><ellipse cx="984" cy="580" rx="17.5" ry="7"/><text x="984" y="580">KLF12</text></g>
<g id="d_KIF11" class="n"><ellipse cx="1017" cy="583" rx="17.5" ry="7"/><text x="1017" y="583">KIF11</text></g>
<g id="d_CASP8AP2" class="n"><ellipse cx="1034" cy="601" rx="18" ry="7"/><text x="1034" y="601">CASP8AP2</text></g>
<g id="d_PIK3R3" class="n"><ellipse cx="962" cy="608" rx="17.5" ry="7"/><text x="962" y="608">PIK3R3</text></g>
<g id="d_EIF4G1" class="n"><ellipse cx="1007" cy="613" rx="17.5" ry="7"/><text x="1007" y="613">EIF4G1</text></g>
<g id="d_GPR37" class="n"><ellipse cx="992" cy="627" rx="17.5" ry="7"/><text x="992" y="627">GPR37</text></g>
<g id="d_EIF4EBP2" class="n"><ellipse cx="1027" cy="629" rx="17.5" ry="7"/><text x="1027" y="629">EIF4EBP2</text></g>
<g id="d_IRS1" class="n"><ellipse cx="1004" cy="644" rx="17.5" ry="7"/><text x="1004" y="644">IRS1</text></g>
<g id="d_CHD8" class="n"><ellipse cx="811" cy="621" rx="17.5" ry="7"/><text x="811" y="621">CHD8</text></g>
<g id="d_PRKDC" class="n"><ellipse cx="841" cy="639" rx="17.5" ry="7"/><text x="841" y="639">PRKDC</text></g>
<g id="d_MAPRE2" class="n"><ellipse cx="886" cy="633" rx="17.5" ry="7"/><text x="886" y="633">MAPRE2</text></g>
<g id="d_ZC3H4" class="n"><ellipse cx="917" cy="633" rx="17.5" ry="7"/><text x="917" y="633">ZC3H4</text></g>
<g id="d_MAP1A" class="n"><ellipse cx="886" cy="653" rx="17.5" ry="7"/><text x="886" y="653">MAP1A</text></g>
<g id="d_ZNF367" class="n"><ellipse cx="921" cy="658" rx="17.5" ry="7"/><text x="921" y="658">ZNF367</text></g>
<g id="d_EZH2" class="n"><ellipse cx="966" cy="654" rx="17.5" ry="7"/><text x="966" y="654">EZH2</text></g>
</g>

<!-- hubs -->
<g id="hub_a_ELF3" class="hub"><use href="#oct" transform="translate(308,219) scale(1.09)"/><text x="308" y="219">ELF3</text></g>
<g id="hub_MXI1" class="hub"><use href="#oct" transform="translate(528,193) scale(0.9)"/><text x="528" y="193">MXI1</text></g>
<g id="hub_b_E2F2" class="hub"><use href="#oct" transform="translate(640,152) scale(0.95)"/><text x="640" y="152">E2F2</text></g>
<g id="hub_ELK1" class="hub"><use href="#oct" transform="translate(941,199) scale(0.9)"/><text x="941" y="199">ELK1</text></g>
<g id="hub_c_ELF3" class="hub"><use href="#oct" transform="translate(225,585) scale(1.18)"/><text x="225" y="585">ELF3</text></g>
<g id="hub_ATF4" class="hub"><use href="#oct" transform="translate(530,551) scale(1)"/><text x="530" y="551">ATF4</text></g>
<g id="hub_d_E2F2" class="hub"><use href="#oct" transform="translate(713,513) scale(0.97)"/><text x="713" y="513">E2F2</text></g>
<g id="hub_TFDP1" class="hub"><use href="#oct" transform="translate(714,604) scale(0.84)"/><text x="714" y="604" style="font-size:5.5px">TFDP1</text></g>
<g id="hub_E2F7" class="hub"><use href="#oct" transform="translate(886,560) scale(1.09)"/><text x="886" y="560">E2F7</text></g>

<!-- labels panel a -->
<g id="labels_a">
<text class="la" x="84" y="66">Ribosomal</text><text class="la" x="84" y="83">Proteins</text>
<text class="la" x="57" y="118">Organelle</text><text class="la" x="57" y="137">acidification</text>
<text class="la" x="336" y="67">Fatty acid</text><text class="la" x="336" y="85">oxidation</text>
<text class="la" x="281" y="100">Cytokines</text>
<text class="la" x="409" y="113">Adrenoreceptor</text>
<text class="la" x="445" y="135">Immune</text><text class="la" x="444" y="153">response</text>
<text class="la" x="463" y="244">Growth</text><text class="la" x="463" y="262">arrest &amp;</text><text class="la" x="463" y="281">DNA</text><text class="la" x="463" y="299">damage</text>
<text class="la" x="415" y="325">Cyclin</text><text class="la" x="415" y="344">Kinase</text>
<text class="la" x="48" y="329">OxPhos</text>
<text class="la" x="260" y="330">Apoptosis</text>
<text class="la" x="342" y="349">Phosphatase</text>
</g>
<!-- labels panel b -->
<g id="labels_b">
<text class="lb" x="582" y="82">Lipid</text><text class="lb" x="582" y="97">metabolism</text>
<text class="lb" x="627" y="75">Raptor</text>
<text class="lb" x="741" y="74">Histone</text><text class="lb" x="740" y="87">demethylation</text>
<text class="lb" x="819" y="76">Cell</text><text class="lb" x="819" y="93">cycle</text>
<text class="lb" x="788" y="105">WNT</text>
<text class="lb" x="967" y="47">Phosphatases</text>
<text class="lb" x="1012" y="95">Cytokines</text>
<text class="ls" x="1046" y="107">HIF1-<tspan font-weight="bold">α</tspan></text>
<text class="lb" x="806" y="172">AMPK</text>
<text class="lb" x="798" y="194">mTOR</text>
<text class="lb" x="754" y="204">Other</text><text class="lb" x="753" y="220">transcripti</text><text class="lb" x="753" y="236">on factors</text>
<text class="lb" x="583" y="230">DNA</text><text class="lb" x="583" y="247">replication</text>
<text class="lb" x="650" y="235">Cell</text><text class="lb" x="650" y="251">cycle</text>
<text class="lb" x="1068" y="228">Lipid</text><text class="lb" x="1069" y="245">metab</text><text class="lb" x="1069" y="260">olism</text>
<text class="lb" x="831" y="333">MAPK</text>
<text class="lb" x="1041" y="303">Other</text><text class="lb" x="1041" y="319">transcription</text><text class="lb" x="1041" y="335">factors</text>
</g>
<!-- labels panel c -->
<g id="labels_c">
<text class="lb" x="110" y="471">Ribosomal</text><text class="lb" x="110" y="487">proteins</text>
<text class="lb" x="46" y="507">Mito-</text><text class="lb" x="45" y="523">ribosomal</text><text class="lb" x="48" y="539">proteins</text>
<text class="lb" x="187" y="474">cytokines</text>
<text class="lb" x="252" y="450">Fatty acid</text><text class="lb" x="253" y="466">metabolism</text>
<text class="lb" x="312" y="471">Immune</text><text class="lb" x="313" y="487">response</text>
<text class="lb" x="343" y="527">Apoptosis</text>
<text class="lb" x="346" y="563">Phosphatase</text>
<text class="lb" x="446" y="449">Mitochondrial</text><text class="lb" x="446" y="463">OxPhos</text>
<text class="lb" x="401" y="481">Immune</text><text class="lb" x="403" y="496">response</text>
<text class="lb" x="453" y="544">Ribosomal protein</text>
<text class="lb" x="55" y="699">OxPhos</text>
<text class="lb" x="219" y="708">Organelle</text><text class="lb" x="222" y="723">acidification</text>
<text class="lb" x="288" y="723">Cell cycle</text>
<text class="lb" x="384" y="676">Other</text><text class="lb" x="384" y="693">Transcription</text><text class="lb" x="384" y="709">Factors</text>
<text class="lb" x="431" y="653">Apoptosis</text>
<text class="lb" x="472" y="668">Zinc</text><text class="lb" x="472" y="684">finger</text><text class="lb" x="472" y="699">Protein</text>
<text class="lb" x="525" y="681">Cell cycle</text><text class="lb" x="525" y="698">arrest</text>
</g>
<!-- labels panel d -->
<g id="labels_d">
<text class="lb" x="673" y="429">DNA</text><text class="lb" x="672" y="446">repair</text>
<text class="lb" x="615" y="447">G-protein</text><text class="lb" x="614" y="462">adaptor</text>
<text class="lb" x="592" y="496">EGFR</text><text class="lb" x="589" y="512">Promotor</text>
<text class="lb" x="785" y="452">Apoptosis</text>
<text class="ls" x="1006" y="429">Cell cycle</text><text class="ls" x="1006" y="446">DNA repair &amp;</text><text class="ls" x="1006" y="461">DNA</text><text class="ls" x="1006" y="477">replication</text>
<text class="lb" x="590" y="556">DNA</text><text class="lb" x="588" y="573">replication</text><text class="lb" x="590" y="589">&amp; repair</text>
<text class="lb" x="749" y="563">Other</text><text class="lb" x="747" y="579">transcription</text><text class="lb" x="752" y="594">factors</text>
<text class="lb" x="595" y="639">ER</text><text class="lb" x="597" y="656">Ca(2+)</text><text class="lb" x="596" y="671">homeostasis</text>
<text class="lb" x="633" y="684">Chromatin</text><text class="lb" x="633" y="700">assembly</text>
<text class="lb" x="684" y="684">Cell</text><text class="lb" x="683" y="700">cycle</text>
<text class="lb" x="747" y="686">Cell growth &amp;</text><text class="lb" x="746" y="701">migration</text>
<text class="lb" x="781" y="643">Chromatin</text><text class="lb" x="781" y="658">remodeling</text>
<text class="lb" x="836" y="663">DNA</text><text class="lb" x="835" y="679">Protein</text><text class="lb" x="835" y="695">Kinase</text><text class="lb" x="835" y="711">C</text>
<text class="lb" x="903" y="681">Microtubule</text>
<text class="lb" x="979" y="678">Histone</text><text class="lb" x="979" y="693">methylation</text>
<text class="ls" x="1016" y="664">Protein</text><text class="ls" x="1016" y="679">synthesis</text>
<text class="lb" x="1062" y="620">Apoptosis</text>
</g>
</svg>
